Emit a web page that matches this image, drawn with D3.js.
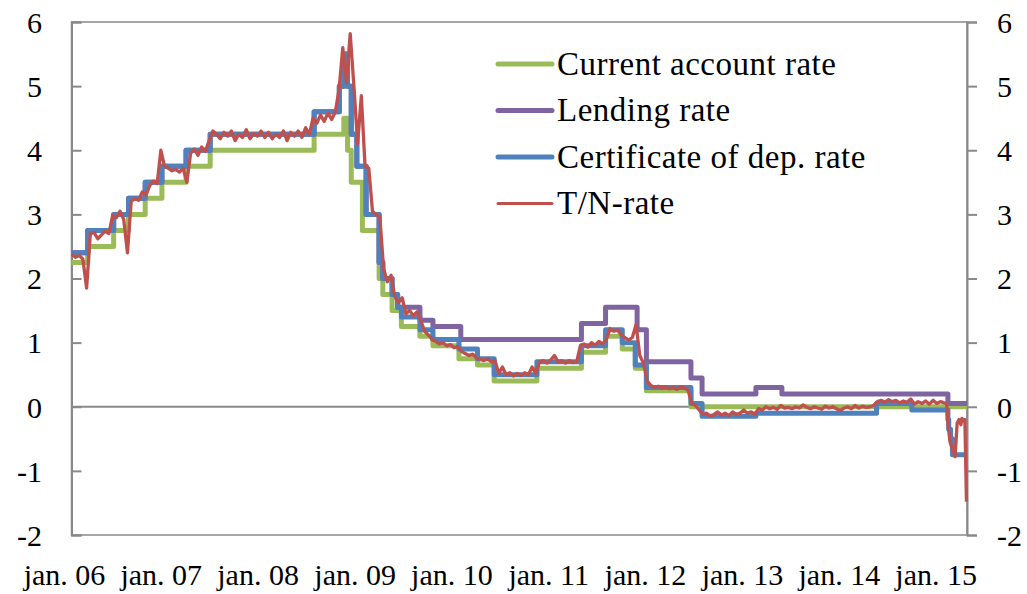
<!DOCTYPE html>
<html>
<head>
<meta charset="utf-8">
<script src="https://cdn.jsdelivr.net/npm/d3@7"></script>
<style>
  body { margin: 0; background: #fff; }
  svg { display: block; }
</style>
</head>
<body>
<div id="renderer"></div>
<script>
// ---- data -------------------------------------------------------------
var caDates = ['2006-01-01', '2006-03-03', '2006-06-09', '2006-08-04', '2006-10-06', '2006-12-08',
  '2007-03-09', '2007-06-08', '2008-07-04', '2008-10-24', '2008-11-07', '2008-11-21', '2009-01-02',
  '2009-03-06', '2009-03-20', '2009-04-24', '2009-05-29', '2009-08-07', '2009-09-25', '2010-01-01',
  '2010-03-12', '2010-05-14', '2010-10-22', '2011-04-08', '2011-07-08', '2011-09-09', '2011-10-28',
  '2011-12-09', '2012-05-25'];
var caValues = [2.25, 2.5, 2.75, 3.0, 3.25, 3.5,
  3.75, 4.0, 4.25, 4.5, 4.0, 3.5, 2.75,
  2.0, 1.75, 1.5, 1.25, 1.1, 0.95, 0.75,
  0.65, 0.4, 0.6, 0.85, 1.1, 0.9, 0.6,
  0.25, 0.0];

var lendDates = ['2006-01-01', '2006-03-03', '2006-06-09', '2006-08-04', '2006-10-06', '2006-12-08',
  '2007-03-09', '2007-06-08', '2008-07-04', '2008-10-07', '2008-10-24', '2008-11-07', '2008-11-21',
  '2008-12-12', '2009-01-16', '2009-03-06', '2009-03-20', '2009-04-24', '2009-05-15', '2009-08-07',
  '2009-09-25', '2010-01-08', '2011-04-08', '2011-07-08', '2011-11-04', '2011-12-09', '2012-05-25',
  '2012-07-06', '2013-01-25', '2013-05-03', '2015-01-19'];
var lendValues = [2.4, 2.75, 3.0, 3.25, 3.5, 3.75,
  4.0, 4.25, 4.6, 5.0, 5.5, 5.0, 4.25,
  3.75, 3.0, 2.25, 2.0, 1.75, 1.55, 1.35,
  1.25, 1.05, 1.3, 1.55, 1.2, 0.7, 0.45,
  0.2, 0.3, 0.2, 0.05];

var cdDates = ['2006-01-01', '2006-03-03', '2006-06-09', '2006-08-04', '2006-10-06', '2006-12-08',
  '2007-03-09', '2007-06-08', '2008-07-04', '2008-10-07', '2008-10-24', '2008-11-07', '2008-11-21',
  '2008-12-12', '2009-01-16', '2009-03-06', '2009-03-20', '2009-04-24', '2009-05-15', '2009-05-29',
  '2009-08-07', '2009-09-25', '2010-01-01', '2010-03-12', '2010-05-14', '2010-10-22', '2011-04-08',
  '2011-07-08', '2011-09-09', '2011-10-28', '2011-12-09', '2012-05-25', '2012-07-06', '2013-01-25',
  '2014-04-25', '2014-09-05', '2015-01-19', '2015-01-22', '2015-01-29', '2015-02-05'];
var cdValues = [2.4, 2.75, 3.0, 3.25, 3.5, 3.75,
  4.0, 4.25, 4.6, 5.0, 5.5, 5.0, 4.25,
  3.75, 3.0, 2.25, 2.0, 1.75, 1.55, 1.4,
  1.2, 1.05, 0.9, 0.75, 0.5, 0.7, 0.95,
  1.2, 1.0, 0.65, 0.3, 0.05, -0.15, -0.1,
  0.05, -0.05, -0.2, -0.35, -0.5, -0.75];

// T/N-rate, read every second week from 2 jan. 2006
var tnStart = '2006-01-02';
var tnValues = [
  2.38, 2.33, 2.36, 2.30, 1.85, 2.70, 2.72, 2.62, 2.68, 2.74, 2.70, 2.98, 2.95, 3.05, 2.92, 2.40, 3.20, 3.25, 3.22, 3.35, 3.30, 3.45, 3.52, 3.48, 4.00, 3.75,
  3.72, 3.68, 3.70, 3.66, 3.72, 3.50, 3.95, 4.02, 3.92, 4.05, 3.98, 4.15, 4.30, 4.25, 4.18, 4.28, 4.22, 4.30, 4.15, 4.25, 4.20, 4.32, 4.18, 4.26, 4.22, 4.30,
  4.20, 4.28, 4.18, 4.25, 4.20, 4.30, 4.15, 4.28, 4.22, 4.30, 4.20, 4.35, 4.25, 4.50, 4.42, 4.55, 4.45, 4.58, 4.48, 4.60, 4.95, 5.60, 5.05, 5.82, 5.00, 4.10, 4.85,
  3.75, 3.72, 3.05, 3.00, 2.95, 2.15, 1.95, 2.05, 1.72, 1.62, 1.70, 1.45, 1.50, 1.42, 1.48, 1.35, 1.18, 1.12, 1.06, 1.02, 0.98, 1.00, 0.95, 0.97, 0.92, 0.94,
  0.86, 0.83, 0.80, 0.82, 0.76, 0.74, 0.72, 0.75, 0.70, 0.72, 0.52, 0.62, 0.50, 0.53, 0.48, 0.52, 0.49, 0.53, 0.50, 0.62, 0.52, 0.70, 0.72, 0.68, 0.73, 0.80,
  0.70, 0.72, 0.68, 0.72, 0.69, 0.70, 0.95, 0.98, 0.93, 1.00, 0.96, 1.02, 0.98, 1.05, 1.22, 1.18, 1.20, 1.12, 1.08, 1.04, 1.08, 1.28, 0.80, 0.68, 0.40, 0.33,
  0.30, 0.32, 0.29, 0.31, 0.28, 0.30, 0.27, 0.31, 0.29, 0.26, 0.05, 0.02, -0.05, -0.12, -0.10, -0.15, -0.12, -0.08, -0.13, -0.10, -0.14, -0.08, -0.12, -0.10, -0.05, -0.10,
  -0.08, -0.12, -0.03, -0.05, 0.00, -0.03, -0.01, -0.04, 0.02, -0.02, -0.01, -0.03, 0.00, -0.02, 0.03, -0.01, -0.03, 0.00, -0.02, -0.04, 0.01, -0.02, 0.00, -0.03, -0.06, -0.02,
  0.00, -0.03, 0.02, -0.02, 0.01, -0.01, 0.00, 0.02, 0.08, 0.10, 0.07, 0.11, 0.08, 0.10, 0.06, 0.09, 0.07, 0.12, 0.04, 0.08, 0.05, 0.09, 0.04, 0.10, 0.05, 0.08,
  0.06
];
// last weeks of the T/N-rate, read day by day
var tnTailDates = ['2015-01-14', '2015-01-20', '2015-01-27', '2015-02-04', '2015-02-15', '2015-02-23',
  '2015-03-02', '2015-03-09', '2015-03-13', '2015-03-19', '2015-03-24', '2015-03-30'];
var tnTailValues = [0.05, -0.3, -0.55, -0.65, -0.78, -0.25,
  -0.2, -0.28, -0.18, -0.22, -0.2, -1.48];

var axisStart = '2006-01-01';
var axisEnd = '2015-04-01';
var yTicks = [-2, -1, 0, 1, 2, 3, 4, 5, 6];
var xTickDates = ['2006-01-01', '2007-01-01', '2008-01-01', '2009-01-01', '2010-01-01',
  '2011-01-01', '2012-01-01', '2013-01-01', '2014-01-01', '2015-01-01'];
var xTickLabels = ['jan. 06', 'jan. 07', 'jan. 08', 'jan. 09', 'jan. 10',
  'jan. 11', 'jan. 12', 'jan. 13', 'jan. 14', 'jan. 15'];

var seriesNames = ['Current account rate', 'Lending rate', 'Certificate of dep. rate', 'T/N-rate'];
var seriesColors = ['#9bbb59', '#8064a2', '#4f81bd', '#c0504d'];

// ---- chart ------------------------------------------------------------
var parse = d3.timeParse('%Y-%m-%d');
var fontFamily = "'Liberation Serif', 'Times New Roman', serif";
var axisColor = '#898989';

var svg = d3
  .select('#renderer')
  .append('svg')
  .attr('width', 1027)
  .attr('height', 594);

var x = d3.scaleTime().domain([parse(axisStart), parse(axisEnd)]).range([71.5, 967]);
var y = d3.scaleLinear().domain([-2, 6]).range([535, 22]);

// plot frame
svg
  .append('rect')
  .attr('x', x.range()[0])
  .attr('y', y(6))
  .attr('width', x.range()[1] - x.range()[0])
  .attr('height', y(-2) - y(6))
  .attr('fill', 'none')
  .attr('stroke', axisColor)
  .attr('stroke-width', 1.5);

// left axis: ticks inside
var leftAxis = svg.append('g').attr('transform', 'translate(' + x.range()[0] + ',0)');
leftAxis
  .call(d3.axisRight(y).tickValues(yTicks).tickSize(10).tickFormat(''))
  .call(function (g) {
    g.select('.domain').attr('stroke', axisColor).attr('stroke-width', 2);
    g.selectAll('.tick line').attr('stroke', axisColor).attr('stroke-width', 2);
  });

// right axis: ticks outside
var rightAxis = svg.append('g').attr('transform', 'translate(' + x.range()[1] + ',0)');
rightAxis
  .call(d3.axisRight(y).tickValues(yTicks).tickSize(10).tickFormat(''))
  .call(function (g) {
    g.select('.domain').attr('stroke', axisColor).attr('stroke-width', 2);
    g.selectAll('.tick line').attr('stroke', axisColor).attr('stroke-width', 2);
  });

// y labels on both sides
svg
  .append('g')
  .selectAll('text')
  .data(yTicks)
  .enter()
  .append('text')
  .attr('x', 42)
  .attr('y', function (d) { return y(d); })
  .attr('dy', '0.36em')
  .attr('text-anchor', 'end')
  .style('font', '30px ' + fontFamily)
  .attr('fill', '#000')
  .text(function (d) { return d; });

svg
  .append('g')
  .selectAll('text')
  .data(yTicks)
  .enter()
  .append('text')
  .attr('x', 997)
  .attr('y', function (d) { return y(d); })
  .attr('dy', '0.36em')
  .attr('text-anchor', 'start')
  .style('font', '30px ' + fontFamily)
  .attr('fill', '#000')
  .text(function (d) { return d; });

// horizontal axis at zero
svg
  .append('line')
  .attr('x1', x.range()[0])
  .attr('x2', x.range()[1])
  .attr('y1', y(0))
  .attr('y2', y(0))
  .attr('stroke', axisColor)
  .attr('stroke-width', 2);

// x labels below the frame
svg
  .append('g')
  .selectAll('text')
  .data(xTickDates)
  .enter()
  .append('text')
  .attr('x', function (d) { return x(parse(d)) - 7; })
  .attr('y', 585)
  .attr('text-anchor', 'middle')
  .style('font', '30px ' + fontFamily)
  .attr('fill', '#000')
  .text(function (d, i) { return xTickLabels[i]; });

// ---- series -------------------------------------------------------------
function stepData(dates, values) {
  var pts = dates.map(function (d, i) { return { date: parse(d), value: values[i] }; });
  pts.push({ date: parse(axisEnd), value: values[values.length - 1] });
  return pts;
}

var stepLine = d3
  .line()
  .curve(d3.curveStepAfter)
  .x(function (d) { return x(d.date); })
  .y(function (d) { return y(d.value); });

var plainLine = d3
  .line()
  .x(function (d) { return x(d.date); })
  .y(function (d) { return y(d.value); });

var tnData = tnValues.map(function (v, i) {
  return { date: d3.timeDay.offset(parse(tnStart), i * 14), value: v };
});
tnTailDates.forEach(function (d, i) {
  tnData.push({ date: parse(d), value: tnTailValues[i] });
});

var lines = svg.append('g');

lines
  .append('path')
  .datum(stepData(caDates, caValues))
  .attr('d', stepLine)
  .attr('fill', 'none')
  .attr('stroke', seriesColors[0])
  .attr('stroke-width', 5)
  .attr('stroke-linejoin', 'round');

lines
  .append('path')
  .datum(stepData(lendDates, lendValues))
  .attr('d', stepLine)
  .attr('fill', 'none')
  .attr('stroke', seriesColors[1])
  .attr('stroke-width', 5)
  .attr('stroke-linejoin', 'round');

lines
  .append('path')
  .datum(stepData(cdDates, cdValues))
  .attr('d', stepLine)
  .attr('fill', 'none')
  .attr('stroke', seriesColors[2])
  .attr('stroke-width', 5)
  .attr('stroke-linejoin', 'round');

lines
  .append('path')
  .datum(tnData)
  .attr('d', plainLine)
  .attr('fill', 'none')
  .attr('stroke', seriesColors[3])
  .attr('stroke-width', 3.3)
  .attr('stroke-linejoin', 'round');

// ---- legend -------------------------------------------------------------
var legend = svg.append('g').attr('transform', 'translate(498,64)');
var legendRows = legend
  .selectAll('g')
  .data(seriesNames)
  .enter()
  .append('g')
  .attr('transform', function (d, i) { return 'translate(0,' + i * 46.5 + ')'; });

legendRows
  .append('line')
  .attr('x1', 0)
  .attr('x2', 54)
  .attr('stroke', function (d, i) { return seriesColors[i]; })
  .attr('stroke-width', function (d, i) { return i === 3 ? 3 : 5; })
  .attr('stroke-linecap', 'round');

legendRows
  .append('text')
  .attr('x', 59)
  .attr('dy', '0.33em')
  .style('font', '33px ' + fontFamily)
  .style('letter-spacing', '0.5px')
  .attr('fill', '#000')
  .text(function (d) { return d; });
</script>
</body>
</html>
